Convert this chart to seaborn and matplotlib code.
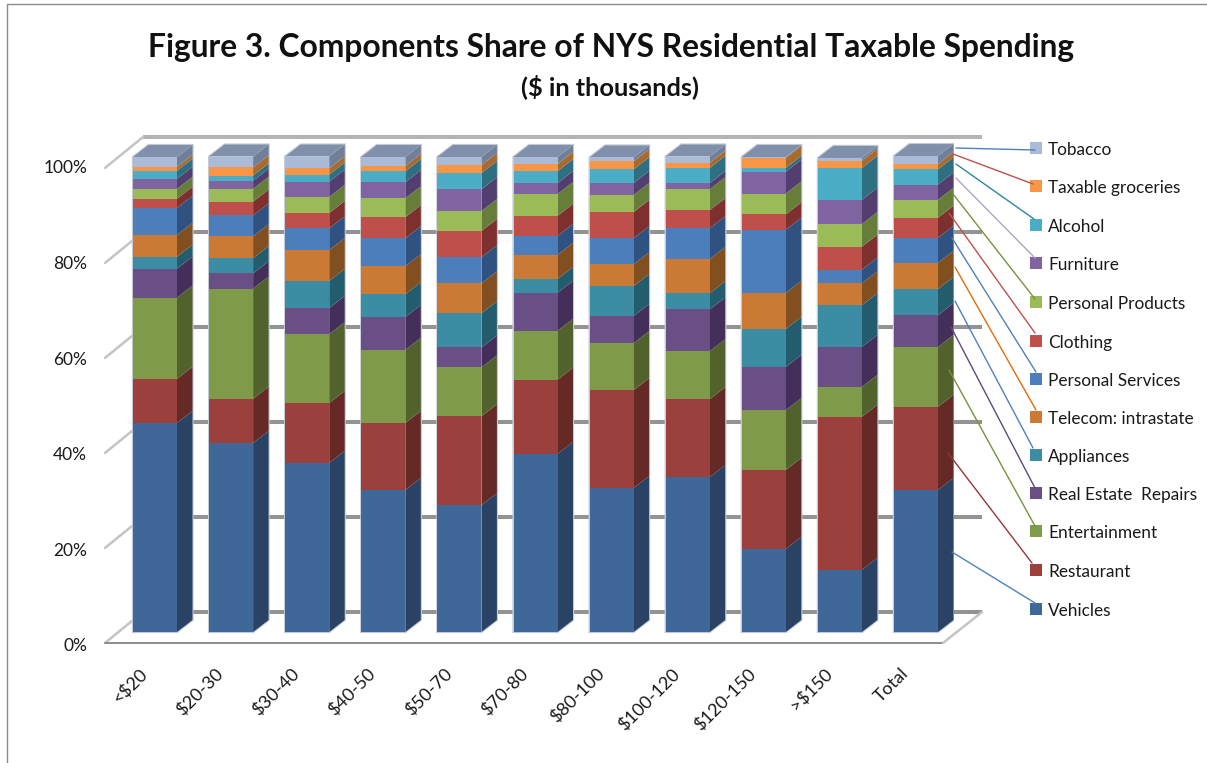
import numpy as np
import pandas as pd
import seaborn as sns
import matplotlib
matplotlib.use("Agg")
import matplotlib.pyplot as plt
from matplotlib.lines import Line2D
from matplotlib.patches import Rectangle
from matplotlib.transforms import ScaledTranslation

# -----------------------------
# Data (share of spending, %)
# -----------------------------
categories = ['<$20', '$20-30', '$30-40', '$40-50', '$50-70', '$70-80',
              '$80-100', '$100-120', '$120-150', '>$150', 'Total']

vehicles = [44.0, 39.8, 35.6, 29.9, 26.7, 37.5, 30.3, 32.6, 17.5, 13.1, 29.9]
restaurant = [9.3, 9.3, 12.6, 14.1, 18.7, 15.6, 20.6, 16.4, 16.6, 32.2, 17.5]
entertainment = [17.1, 23.2, 14.5, 15.4, 10.3, 10.3, 9.9, 10.1, 12.6, 6.3, 12.6]
real_estate = [6.1, 3.2, 5.5, 6.9, 4.2, 8.0, 5.7, 8.8, 9.1, 8.4, 6.7]
appliances = [2.5, 3.2, 5.7, 4.8, 7.2, 2.9, 6.3, 3.4, 8.0, 8.8, 5.5]
telecom = [4.6, 4.6, 6.5, 5.9, 6.3, 5.1, 4.6, 7.2, 7.6, 4.6, 5.5]
personal_services = [5.7, 4.4, 4.6, 5.9, 5.5, 4.0, 5.5, 6.5, 13.3, 2.9, 5.3]
clothing = [1.9, 2.9, 3.2, 4.4, 5.5, 4.2, 5.5, 3.8, 3.2, 4.8, 4.2]
personal_products = [2.1, 2.7, 3.4, 4.0, 4.2, 4.6, 3.6, 4.4, 4.4, 4.8, 3.8]
furniture = [2.1, 1.7, 3.2, 3.4, 4.6, 2.3, 2.5, 1.3, 4.6, 5.1, 3.2]
alcohol = [1.7, 1.1, 1.5, 2.3, 3.4, 2.5, 2.9, 3.2, 0.8, 6.7, 3.2]
groceries = [0.8, 1.7, 1.3, 1.1, 1.7, 1.5, 1.7, 1.1, 2.1, 1.5, 1.1]
tobacco = [2.1, 2.3, 2.5, 1.9, 1.7, 1.5, 0.8, 1.3, 0.2, 0.6, 1.7]

series_names = ['Vehicles', 'Restaurant', 'Entertainment', 'Real Estate  Repairs',
                'Appliances', 'Telecom: intrastate', 'Personal Services', 'Clothing',
                'Personal Products', 'Furniture', 'Alcohol', 'Taxable groceries', 'Tobacco']
series_values = [vehicles, restaurant, entertainment, real_estate, appliances, telecom,
                 personal_services, clothing, personal_products, furniture, alcohol,
                 groceries, tobacco]
front_colors = ['#3f6797', '#9c403e', '#7f9a48', '#694f86', '#3c8da3', '#cb7a36', '#4c7ebb',
                '#be4f4b', '#9bbb58', '#8064a2', '#4bacc6', '#f79646', '#aabad7']
side_colors = ['#2a4365', '#652926', '#52622d', '#442f5b', '#235d6d', '#814f20', '#2f5280',
               '#7d302d', '#667e39', '#523f6f', '#2e7081', '#a96a2e', '#717f99']
leader_colors = ['#4f81bd', '#953735', '#77933c', '#604a7b', '#4f81bd', '#e46c0a', '#4f81bd',
                 '#c0504d', '#77933c', '#b3a2c7', '#31859c', '#c0504d', '#4f81bd']
pct_ticks = [0, 20, 40, 60, 80, 100]

# -----------------------------
# Layout, all in reference pixels
# -----------------------------
W, H = 1207, 763
x0, x_step = 155.0, 76.1     # centre of first bar, bar spacing
y0, y_step = 632.0, 4.75     # 0% on the front plane, px per percent

def px(x, y):
    return x / W, 1 - y / H

sns.set_theme(style='white')
plt.rcParams['font.family'] = ['Lato', 'DejaVu Sans']

fig = plt.figure(figsize=(W / 100, H / 100), dpi=100)
y_lo, y_hi = -5.0, 110.0
left = x0 - 0.5 * x_step
bottom = y0 - y_lo * y_step
ax = fig.add_axes([left / W, 1 - bottom / H, 11 * x_step / W, (y_hi - y_lo) * y_step / H])

# -----------------------------
# Walls and gridlines
# -----------------------------
wall_x0, wall_x1, floor_x1, back_x1 = -0.657, -0.158, 10.355, 10.867
drop, rise = -2.3, 4.2
for p in pct_ticks:
    shade = '#b4b4b4' if p == 100 else '#939393'
    ax.plot([wall_x1, back_x1], [p + rise, p + rise], color=shade, lw=2.9, zorder=1,
            solid_capstyle='butt', clip_on=False)
    ax.plot([wall_x0, wall_x1], [p + drop, p + rise], color='#c4c4c4', lw=1.8, zorder=1,
            clip_on=False)
ax.plot([wall_x0, floor_x1], [drop, drop], color='#858585', lw=1.3, zorder=1, clip_on=False)
ax.plot([floor_x1, back_x1], [drop, rise], color='#c4c4c4', lw=1.8, zorder=1, clip_on=False)

# -----------------------------
# Stacked bars with fake depth
# -----------------------------
bar_w = 44 / x_step
dx, dy = 15.5 / x_step, 12 / y_step
stack = np.zeros(len(categories))
for name, vals, front, side in zip(series_names, series_values, front_colors, side_colors):
    vals = np.array(vals)
    df = pd.DataFrame({'income': categories, 'share': vals})
    sns.barplot(data=df, x='income', y='share', bottom=stack, color=front, saturation=1,
                width=bar_w, ax=ax, zorder=3, linewidth=0)
    for i in range(len(categories)):
        r = i + bar_w / 2
        ax.fill([r, r + dx, r + dx, r],
                [stack[i], stack[i] + dy, stack[i] + vals[i] + dy, stack[i] + vals[i]],
                color=side, lw=0, zorder=2.5)
    stack = stack + vals

for i, total in enumerate(stack):
    l, r = i - bar_w / 2, i + bar_w / 2
    ax.fill([l, r, r + dx, l + dx], [total, total, total + dy, total + dy],
            color='#8090ab', lw=0, zorder=2.5)
    # soft pale rim round the whole column, the reference is slightly blurred
    ax.fill([l, r, r + dx, r + dx, l + dx, l], [0, 0, dy, total + dy, total + dy, total],
            facecolor='white', edgecolor='#c3cad6', lw=1.6, zorder=2)

ax.set_xlim(-0.5, 10.5)
ax.set_ylim(y_lo, y_hi)
sns.despine(ax=ax, left=True, bottom=True, top=True, right=True)
ax.patch.set_alpha(0)
ax.set_xlabel('')
ax.set_ylabel('')

# tick labels sit below the plane they belong to, like the 3D wall
ax.set_yticks(np.array(pct_ticks) * 1.006 - 2.7, labels=[f'{p}%' for p in pct_ticks])
ax.tick_params(axis='y', length=0, pad=21.5, labelsize=12.5, labelcolor='#1a1a1a')
ax.set_xticks(range(len(categories)), labels=categories)
ax.tick_params(axis='x', length=0, pad=7, labelsize=13, labelcolor='#1a1a1a')
shift = ScaledTranslation(-16 / 100, 0, fig.dpi_scale_trans)
for lab in ax.get_xticklabels():
    lab.set_rotation(45)
    lab.set_ha('right')
    lab.set_va('top')
    lab.set_rotation_mode('anchor')
    lab.set_transform(lab.get_transform() + shift)

# -----------------------------
# Legend with leader lines
# -----------------------------
legend_y = [609, 570, 531, 493, 455, 417, 379, 341, 302, 263, 225, 186, 148]
leader_start = [(952, 552), (948, 453), (949, 370), (951, 327), (955, 301), (955, 267), (952, 238),
                (949, 213), (953, 194), (956, 178), (956, 164), (953, 154), (956, 148)]
leader_end = [(1035, 603), (1032, 563), (1035, 526), (1035, 488), (1033, 448), (1036, 410), (1036, 372),
              (1035, 333), (1035, 299), (1035, 258), (1034, 219), (1033, 184), (1035, 150)]
for name, color, line_c, ly, a, b in zip(series_names, front_colors, leader_colors,
                                         legend_y, leader_start, leader_end):
    fig.add_artist(Rectangle(px(1030, ly + 6), 12 / W, 12 / H, transform=fig.transFigure,
                             facecolor=color, edgecolor='none', zorder=4))
    fig.add_artist(Line2D(*zip(px(*a), px(*b)), transform=fig.transFigure, color=line_c,
                          lw=1.0, zorder=5))
    fig.text(*px(1048, ly + 2), name, fontsize=12.4, color='#1a1a1a', va='center', ha='left')

# -----------------------------
# Title and chart frame
# -----------------------------
fig.text(*px(611, 47), 'Figure 3. Components Share of NYS Residential Taxable Spending',
         fontsize=22.9, fontweight='bold', ha='center', va='center', color='#111111')
fig.text(*px(610, 87), '($ in thousands)', fontsize=18.3, fontweight='bold',
         ha='center', va='center', color='#111111')

fig.add_artist(Line2D(*zip(px(6.5, 763), px(6.5, 4), px(1207, 4)), transform=fig.transFigure,
                      color='#8c8c8c', lw=1.0))

fig.savefig('out.png', dpi=100)
